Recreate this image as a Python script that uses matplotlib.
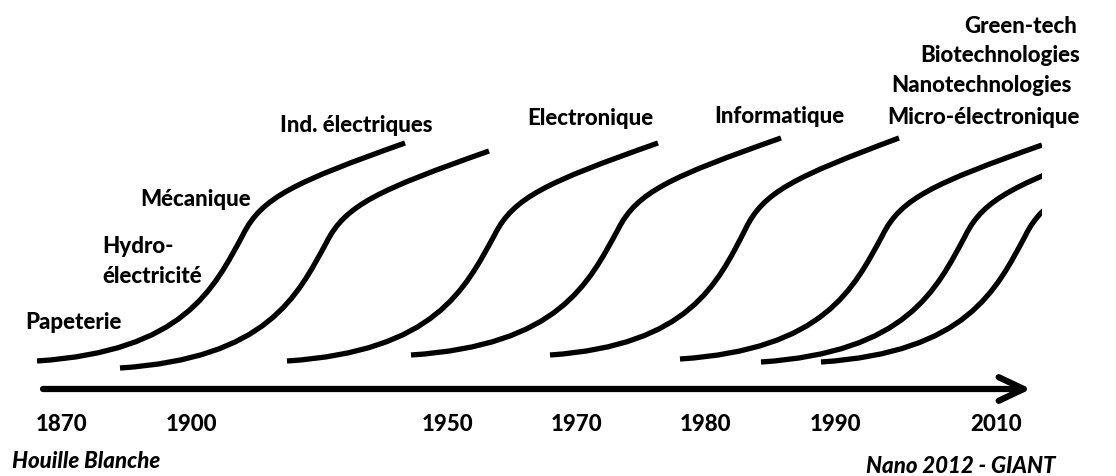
import matplotlib.pyplot as plt
from matplotlib.path import Path
from matplotlib.patches import PathPatch, Rectangle

# S-curves, one per industry wave: left end, width and height (picture pixels)
curve_x0 = [37, 120, 287, 411, 550, 680, 761, 821]
curve_y0 = [361, 368, 361, 355, 355, 359, 362, 362]
curve_w = [368, 369, 371, 370, 349, 362, 365, 365]
curve_h = [218, 217, 218, 217, 217, 214, 218, 218]
x_cut = 1042  # the newest waves are cut at the right edge

# industry labels: text, left x, baseline y
labels = ['Papeterie', 'Hydro-', 'électricité', 'Mécanique', 'Ind. électriques',
          'Electronique', 'Informatique', 'Micro-électronique',
          'Nanotechnologies', 'Biotechnologies', 'Green-tech']
label_x = [25, 102, 102, 140, 280, 527, 714, 887, 891, 920, 964]
label_y = [329, 253, 283, 206, 132, 125, 123, 124, 92, 62, 33]

# time axis
years = ['1870', '1900', '1950', '1970', '1980', '1990', '2010']
year_x = [62, 191, 448, 577, 705, 835, 996]
axis_start, axis_end, axis_y = 43, 1031, 389

# normalised S shape (two cubic Bezier pieces)
shape_u = [0, 0.40, 0.48, 0.56, 0.61, 0.70, 1]
shape_v = [0, 0.045, 0.33, 0.58, 0.75, 0.82, 1]
shape_codes = [Path.MOVETO] + [Path.CURVE4] * 6

plt.rcParams['font.family'] = ['Lato', 'DejaVu Sans']

fig = plt.figure(figsize=(11.16, 4.76), dpi=100)
ax = fig.add_axes([0, 0, 1, 1])
ax.set_xlim(0, 1116)
ax.set_ylim(476, 0)
ax.axis('off')

clip = Rectangle((0, 0), x_cut, 476, transform=ax.transData, visible=False)
ax.add_patch(clip)
for x0, y0, w, h in zip(curve_x0, curve_y0, curve_w, curve_h):
    verts = [(x0 + u * w, y0 - v * h) for u, v in zip(shape_u, shape_v)]
    patch = PathPatch(Path(verts, shape_codes), facecolor='none',
                      edgecolor='black', lw=3.8, capstyle='butt')
    ax.add_patch(patch)
    patch.set_clip_path(clip)

ax.annotate('', xy=(axis_end, axis_y), xytext=(axis_start, axis_y),
            arrowprops=dict(arrowstyle='->, head_length=1.8, head_width=0.85',
                            lw=4.5, color='black', shrinkA=0, shrinkB=0,
                            mutation_scale=10))

for txt, x, y in zip(labels, label_x, label_y):
    ax.text(x, y, txt, fontsize=16, fontweight='black', ha='left', va='baseline')

for txt, x in zip(years, year_x):
    ax.text(x, 431, txt, fontsize=16, fontweight='black', ha='center', va='baseline')

ax.text(12, 468, 'Houille Blanche', fontsize=16, fontweight='black',
        fontstyle='italic', ha='left', va='baseline')
ax.text(866, 473, 'Nano 2012 - GIANT', fontsize=16, fontweight='black',
        fontstyle='italic', ha='left', va='baseline')

fig.savefig('out.png', dpi=100)
